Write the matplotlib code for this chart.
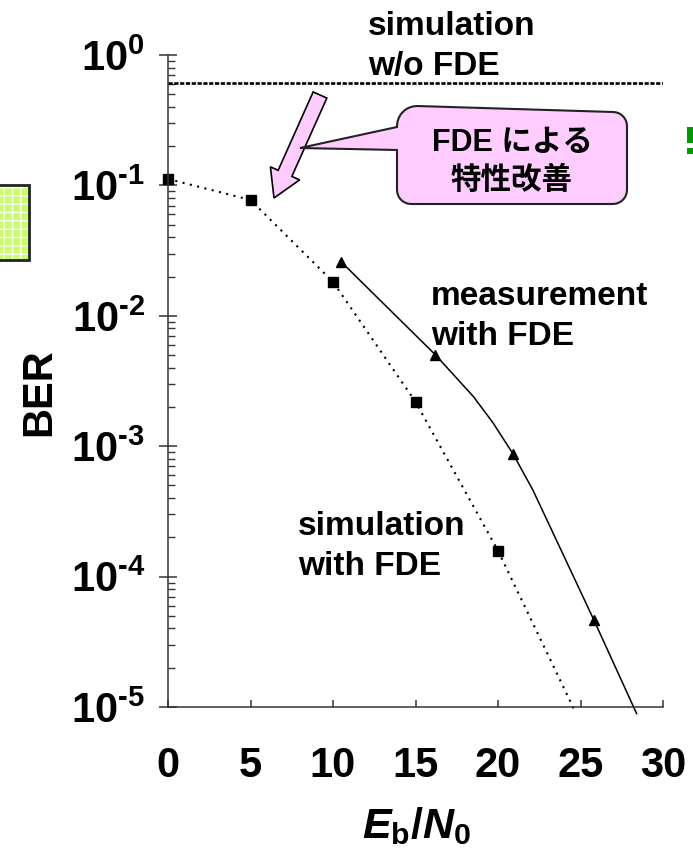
import numpy as np
import matplotlib
matplotlib.use("Agg")
import matplotlib.pyplot as plt
from matplotlib.patches import Polygon, Rectangle
from matplotlib.ticker import FixedLocator, FuncFormatter, LogLocator, NullFormatter

plt.rcParams['font.family'] = ['Liberation Sans', 'Noto Sans CJK JP']
plt.rcParams['font.weight'] = 'bold'
plt.rcParams['mathtext.fontset'] = 'custom'
plt.rcParams['mathtext.rm'] = 'Liberation Sans:bold'
plt.rcParams['mathtext.bf'] = 'Liberation Sans:bold'
plt.rcParams['mathtext.it'] = 'Liberation Sans:bold:italic'

# simulation with FDE (dotted curve, square markers at 5 dB steps)
eb_sim = [0, 5, 10, 15, 20, 24.7]
ber_sim = [0.112, 0.0774, 0.0182, 0.00219, 1.58e-4, 9.1e-6]
eb_sim_mark = [0, 5, 10, 15, 20]
ber_sim_mark = [0.112, 0.0774, 0.0182, 0.00219, 1.58e-4]

# measurement with FDE (solid curve, triangle markers)
eb_meas = [10.5, 16.2, 18.5, 19.7, 20.9, 22.1, 25.8, 28.4]
ber_meas = [0.0259, 0.00503, 0.00241, 0.00151, 8.77e-4, 4.65e-4, 4.68e-5, 8.9e-6]
eb_meas_mark = [10.5, 16.2, 20.9, 25.8]
ber_meas_mark = [0.0259, 0.00503, 8.77e-4, 4.68e-5]

# simulation without FDE (flat level)
ber_no_fde = 0.61

x_ticks = [0, 5, 10, 15, 20, 25, 30]

W, H = 693, 850
fig = plt.figure(figsize=(W / 100, H / 100), dpi=100)


def px(x, y):
    # pixel position (from top-left) -> figure fraction
    return x / W, 1 - y / H


def dec_label(v, pos):
    e = int(round(np.log10(v)))
    sign = '\u2010' if e < 0 else ''
    return r'$\mathbf{10^{%s%d}}$' % (sign, abs(e))


ax = fig.add_axes([168 / W, 1 - 707 / H, (663 - 168) / W, (707 - 55) / H])
ax.set_yscale('log')
ax.set_xlim(0, 30)
ax.set_ylim(1e-5, 1)

for s in ['top', 'right']:
    ax.spines[s].set_visible(False)
for s in ['left', 'bottom']:
    ax.spines[s].set_color('#333333')
    ax.spines[s].set_linewidth(1.1)

ax.xaxis.set_major_locator(FixedLocator(x_ticks))
ax.yaxis.set_major_locator(LogLocator(base=10, numticks=10))
ax.yaxis.set_minor_locator(LogLocator(base=10, subs=np.arange(2, 10), numticks=10))
ax.yaxis.set_minor_formatter(NullFormatter())
ax.yaxis.set_major_formatter(FuncFormatter(dec_label))

ax.tick_params(axis='x', which='major', direction='in', length=5, width=1.1,
               color='#333333', labelsize=30, pad=28)
ax.tick_params(axis='y', which='major', direction='inout', length=13, width=1.1,
               color='#333333', labelsize=30, pad=10)
ax.tick_params(axis='y', which='minor', direction='in', length=5, width=1.0,
               color='#333333')
for lab in ax.get_xticklabels():
    lab.set_fontweight('bold')

# curves
ax.axhline(ber_no_fde, color='black', lw=1.9, ls=(0, (1.6, 0.6)))
ax.plot(eb_sim, ber_sim, color='black', lw=1.5, ls=(0, (1, 2.6)), clip_on=False)
ax.plot(eb_sim_mark, ber_sim_mark, ls='none', marker='s', ms=7.5, color='black', clip_on=False)
ax.plot(eb_meas, ber_meas, color='black', lw=1.1, clip_on=False)
ax.plot(eb_meas_mark, ber_meas_mark, ls='none', marker='^', ms=7.5, color='black', clip_on=False)


def put(x, y, s, size=24, **kw):
    fig.text(*px(x, y), s, fontsize=size, fontweight='bold', va='baseline', **kw)


put(368, 35, 'simulation')
put(368, 75, 'w/o FDE')
put(431, 305, 'measurement')
put(431, 345, 'with FDE')
put(298, 535, 'simulation')
put(298, 575, 'with FDE')

fig.text(*px(39, 392), 'BER', fontsize=30, fontweight='bold', rotation=90,
         ha='center', va='center')
fig.text(*px(416, 838), r'$E_{\mathbf{b}}\mathit{/}N_{\mathbf{0}}$', fontsize=31,
         ha='center', va='baseline')

# block arrow pointing at the curve
tail = np.array([320.0, 95.0])
tip = np.array([274.0, 198.0])
u = (tip - tail) / np.linalg.norm(tip - tail)
n = np.array([-u[1], u[0]])
hw, hhw, hl = 7.5, 16.0, 27.0
base = tip - u * hl
arrow_px = [tail + n * hw, base + n * hw, base + n * hhw, tip,
            base - n * hhw, base - n * hw, tail - n * hw]
fig.patches.append(Polygon([px(*p) for p in arrow_px], closed=True,
                           transform=fig.transFigure, facecolor='#ffccff',
                           edgecolor='black', lw=1.2))

# speech balloon
def corner(cx, cy, r, a0, a1, k=8):
    t = np.radians(np.linspace(a0, a1, k))
    return [(cx + r * np.cos(a), cy - r * np.sin(a)) for a in t]


r = 14
balloon = [(300, 148), (397, 127)]
balloon += corner(397 + r + 6, 112 + r, r + 6, 180, 90)
balloon += corner(627 - r, 112 + r, r, 90, 0)
balloon += corner(627 - r, 204 - r, r, 0, -90)
balloon += corner(397 + r, 204 - r, r, -90, -180)
balloon += [(397, 150)]
fig.patches.append(Polygon([px(*p) for p in balloon], closed=True,
                           transform=fig.transFigure, facecolor='#ffccff',
                           edgecolor='#222222', lw=1.5))
fig.text(*px(512, 143), 'FDE による', fontsize=22, fontweight='bold',
         ha='center', va='center')
fig.text(*px(512, 181), '特性改善', fontsize=22, fontweight='bold',
         ha='center', va='center')

# partly visible boxes at the edges
x0, y0 = px(-5, 260)
x1, y1 = px(29, 185)
fig.patches.append(Rectangle((x0, y0), x1 - x0, y1 - y0, transform=fig.transFigure,
                             facecolor='#c8ff66', edgecolor='white', hatch='++', lw=0))
fig.patches.append(Rectangle((x0, y0), x1 - x0, y1 - y0, transform=fig.transFigure,
                             facecolor='none', edgecolor='#222222', lw=2))
for (ya, yb) in [(127, 143), (148, 154)]:
    xa, ya_f = px(687, yb)
    xb, yb_f = px(694, ya)
    fig.patches.append(Rectangle((xa, ya_f), xb - xa, yb_f - ya_f,
                                 transform=fig.transFigure, facecolor='#009900', lw=0))

fig.savefig('out.png', dpi=100)
